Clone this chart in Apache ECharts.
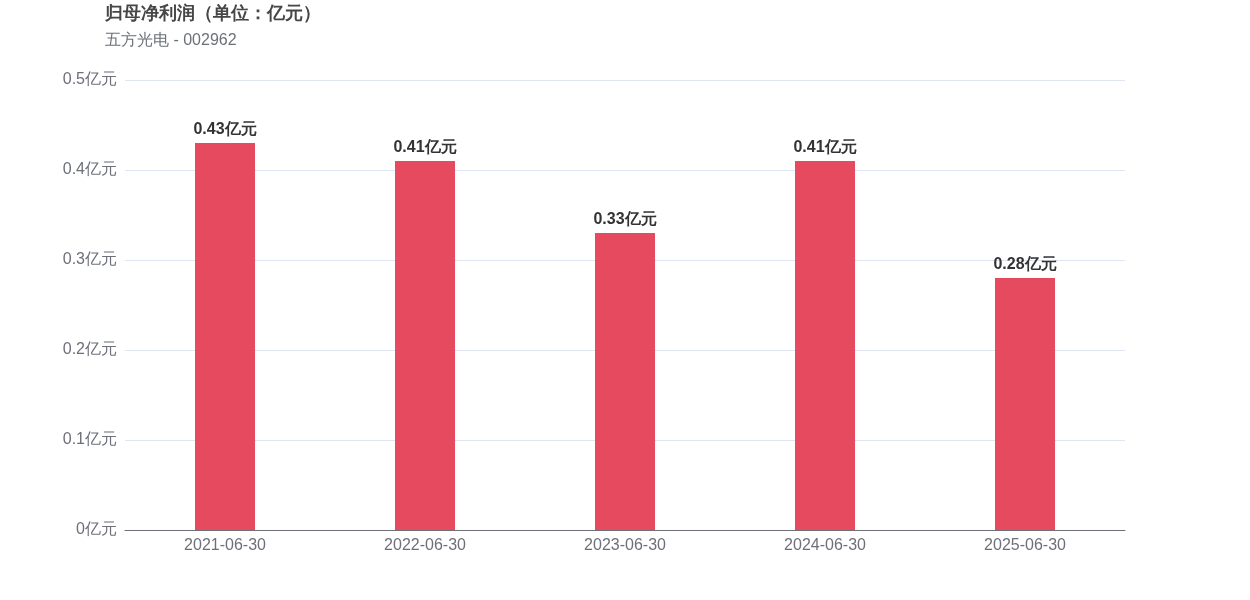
<!DOCTYPE html>
<html lang="zh">
  <head>
    <meta charset="UTF-8" />
    <title>归母净利润</title>
    <script src="https://cdn.jsdelivr.net/npm/echarts@6/dist/echarts.min.js"></script>
    <style>
      html, body { margin: 0; padding: 0; background: #fff; }
      #main { width: 1250px; height: 600px; }
    </style>
  </head>
  <body>
    <div id="main"></div>
    <script>
      // 报告期
      var categories = ["2021-06-30", "2022-06-30", "2023-06-30", "2024-06-30", "2025-06-30"];
      // 归母净利润（亿元）
      var profitValues = [0.43, 0.41, 0.33, 0.41, 0.28];

      var myChart = echarts.init(document.getElementById("main"));
      var option = {
        title: {
          text: "归母净利润（单位：亿元）",
          subtext: "五方光电 - 002962",
          left: 100,
          top: 0,
          itemGap: 10,
          textStyle: { fontSize: 18, fontWeight: "bold", color: "#464646" },
          subtextStyle: { fontSize: 16, color: "#6E7079" }
        },
        grid: { left: 125, right: 125, top: 80, bottom: 70 },
        xAxis: {
          type: "category",
          data: categories,
          axisTick: { show: false },
          axisLine: { lineStyle: { color: "#6E7079" } },
          axisLabel: { fontSize: 16, color: "#6E7079", margin: 8 }
        },
        yAxis: {
          type: "value",
          min: 0,
          max: 0.5,
          interval: 0.1,
          axisLabel: {
            fontSize: 16,
            color: "#6E7079",
            formatter: function (v) { return Number(v.toFixed(1)) + "亿元"; }
          },
          splitLine: { lineStyle: { color: "#E0E6F1" } }
        },
        series: [
          {
            type: "bar",
            data: profitValues,
            barWidth: 60,
            itemStyle: { color: "#E64A5E" },
            label: {
              show: true,
              position: "top",
              fontSize: 16,
              fontWeight: "bold",
              color: "#333",
              formatter: function (p) { return p.value + "亿元"; }
            }
          }
        ]
      };
      myChart.setOption(option);
    </script>
  </body>
</html>
